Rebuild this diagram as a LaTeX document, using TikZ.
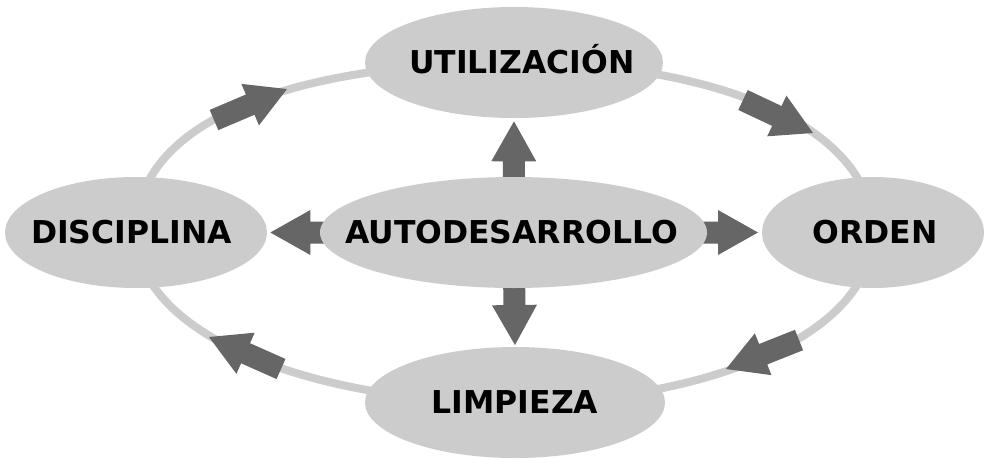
\documentclass[tikz,border=0pt]{standalone}
\usepackage{fontspec}
\setmainfont{DejaVu Sans}
\usetikzlibrary{calc,shapes.geometric,backgrounds}
\definecolor{ringgray}{HTML}{CCCCCC}
\definecolor{arrowgray}{HTML}{666666}
\tikzset{
  bub/.style={ellipse, fill=ringgray, draw=none, inner sep=0pt, outer sep=0pt, minimum height=83.25pt},
  lbl/.style={font=\fontsize{23.6pt}{28pt}\selectfont\bfseries, text=black, text height=17.2pt, text depth=0pt, inner sep=0pt},
  ring/.style={draw=ringgray, line width=6pt},
  arrowfill/.style={fill=arrowgray, draw=none}
}
% block arrow from coordinate #1 (tail) to coordinate #2 (tip)
\newcommand\blockarrow[2]{%
  \coordinate (#1-h) at ($(#2)!30pt!(#1)$);
  \fill[arrowfill] ($(#1)!8.25pt!90:(#2)$) -- ($(#1-h)!8.25pt!90:(#2)$) -- ($(#1-h)!16.875pt!90:(#2)$) -- (#2) -- ($(#1-h)!16.875pt!270:(#2)$) -- ($(#1-h)!8.25pt!270:(#2)$) -- ($(#1)!8.25pt!270:(#2)$) -- cycle;}
\begin{document}
\begin{tikzpicture}[x=0.75pt, y=-0.75pt]
\useasboundingbox (0,0) rectangle (985,458);

% nodes
\node[bub, minimum width=223.5pt, label={[lbl, xshift=6pt]center:UTILIZACIÓN}] (util) at (514,62.5) {};
\node[bub, minimum width=290.25pt, label={[lbl, xshift=-1.5pt]center:AUTODESARROLLO}] (auto) at (513.5,232.5) {};
\node[bub, minimum width=196.5pt, label={[lbl, xshift=-3.4pt]center:DISCIPLINA}] (disc) at (136,232.5) {};
\node[bub, minimum width=166.5pt, label={[lbl, xshift=1.5pt]center:ORDEN}] (orden) at (873,232.5) {};
\node[bub, minimum width=225pt, label={[lbl]center:LIMPIEZA}] (limp) at (515,402.5) {};

% coordinates for arrows
\coordinate (upA) at (auto.center);
\coordinate (dnA) at (auto.center);
\coordinate (lfA) at (auto.center);
\coordinate (rtA) at (auto.center);
\coordinate (upB) at ($(util.south)!2.5pt!(auto.center)$);
\coordinate (dnB) at ($(limp.north)!1.5pt!(auto.center)$);
\coordinate (lfB) at ($(disc.east)!2.5pt!(auto.center)$);
\coordinate (rtB) at ($(orden.west)!3pt!(auto.center)$);

\coordinate (tlA) at (214,120);
\coordinate (tlB) at (287,89);
\coordinate (trA) at (743,100);
\coordinate (trB) at (813,133);
\coordinate (brA) at (799,340);
\coordinate (brB) at (726,369);
\coordinate (blA) at (281,369);
\coordinate (blB) at (209,337);

\begin{pgfonlayer}{background}
  % ring
  \draw[ring] (disc.center) .. controls +(0,-120) and +(-200,0) .. (util.center);
  \draw[ring] (util.center) .. controls +(205,0) and +(0,-105) .. (orden.center);
  \draw[ring] (orden.center) .. controls +(0,105) and +(185,0) .. (limp.center);
  \draw[ring] (limp.center) .. controls +(-210,0) and +(0,100) .. (disc.center);
  % ring arrows
  \blockarrow{tlA}{tlB}
  \blockarrow{trA}{trB}
  \blockarrow{brA}{brB}
  \blockarrow{blA}{blB}
  % central arrows
  \blockarrow{upA}{upB}
  \blockarrow{dnA}{dnB}
  \blockarrow{lfA}{lfB}
  \blockarrow{rtA}{rtB}
\end{pgfonlayer}
\end{tikzpicture}
\end{document}
